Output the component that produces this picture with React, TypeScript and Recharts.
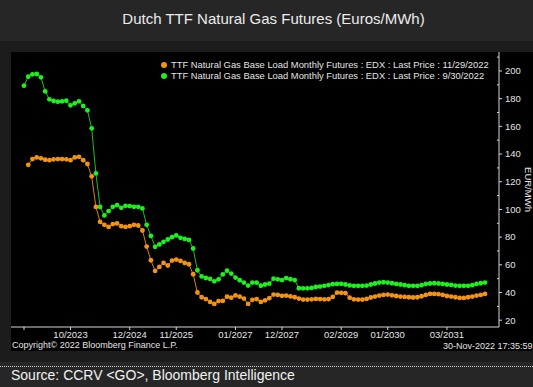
import { Label, Line, LineChart, XAxis, YAxis } from 'recharts';

// monthly contracts, Nov 2022 .. Dec 2031
const firstYear = 2022;
const firstMonth = 11;
const contractCount = 110;
const months: string[] = [];
for (let i = 0; i < contractCount; i++) {
  const m = ((firstMonth - 1 + i) % 12) + 1;
  const y = firstYear + Math.floor((firstMonth - 1 + i) / 12);
  months.push(`${String(m).padStart(2, '0')}/${y}`);
}

// Last price 9/30/2022 (green)
const priceSep30 = [
  189.4, 195.9, 197.6, 197.8, 195.4, 185.3, 179.5, 178.3, 177.8, 178.1,
  178.5, 175.2, 176.6, 178.1, 174.7, 171.6, 158.6, 126.0, 101.8, 95.7,
  98.8, 101.9, 103.1, 101.2, 102.6, 102.4, 101.9, 101.9, 100.7, 88.9,
  80.9, 73.0, 74.7, 76.6, 78.3, 80.0, 81.2, 79.5, 78.7, 78.0,
  71.8, 56.1, 51.6, 50.5, 49.8, 48.1, 49.5, 53.1, 55.8, 53.7,
  50.8, 48.9, 47.2, 45.0, 47.2, 47.1, 44.9, 45.8, 46.4, 50.0,
  49.5, 49.0, 50.4, 49.6, 49.0, 43.1, 43.0, 43.0, 43.3, 44.0,
  44.3, 44.8, 45.4, 46.0, 46.2, 46.3, 45.8, 45.1, 44.8, 44.8,
  44.8, 45.0, 45.8, 46.5, 47.2, 47.4, 47.2, 46.7, 46.2, 45.8,
  45.3, 44.8, 44.8, 44.8, 45.3, 46.2, 46.5, 46.7, 46.5, 46.2,
  45.8, 45.5, 45.0, 44.8, 44.8, 44.8, 45.3, 46.2, 46.7, 47.2,
];

// Last price 11/29/2022 (orange), starts one month later
const priceNov29 = [
  null, 132.2, 136.4, 137.6, 136.9, 135.9, 135.6, 136.2, 136.4, 136.4,
  136.2, 135.6, 137.6, 138.0, 135.6, 132.8, 123.9, 101.8, 91.0, 88.9,
  87.4, 89.4, 89.9, 87.9, 87.4, 87.9, 88.9, 88.4, 84.8, 73.2,
  63.3, 55.6, 58.5, 61.4, 59.5, 63.1, 63.8, 62.8, 61.4, 60.4,
  53.2, 40.0, 36.6, 35.3, 33.2, 31.8, 33.8, 33.9, 37.0, 36.3,
  37.9, 37.0, 35.6, 31.8, 34.7, 35.3, 33.2, 34.4, 35.9, 38.5,
  38.3, 37.6, 37.8, 37.2, 36.6, 35.6, 34.9, 34.9, 35.1, 35.4,
  35.3, 35.1, 35.2, 36.8, 39.9, 39.8, 39.5, 36.3, 35.1, 34.9,
  34.9, 35.4, 36.4, 37.1, 37.8, 38.3, 38.5, 38.0, 37.5, 37.1,
  36.8, 36.6, 36.4, 36.6, 37.3, 38.3, 39.0, 39.0, 38.8, 38.3,
  37.5, 37.1, 36.6, 36.1, 36.1, 36.6, 37.1, 37.8, 38.3, 39.0,
];

const xTicks = ['11/2022', '10/2023', '12/2024', '11/2025', '01/2027', '12/2027', '02/2029', '01/2030', '03/2031'];
const yTicks = [20, 30, 40, 50, 60, 70, 80, 90, 100, 110, 120, 130, 140, 150, 160, 170, 180, 190, 200, 210];

const data = months.map((month, i) => ({ month, nov29: priceNov29[i], sep30: priceSep30[i] }));

const FONT = '"Liberation Sans", Arial, sans-serif';
const ORANGE = '#f39314';
const GREEN = '#1ef01e';
const AXIS = '#d6d6d6';
const TEXT = '#e4e4e4';

const legendItems = [
  { color: ORANGE, label: 'TTF Natural Gas Base Load Monthly Futures : EDX : Last Price : 11/29/2022' },
  { color: GREEN, label: 'TTF Natural Gas Base Load Monthly Futures : EDX : Last Price : 9/30/2022' },
];

function YTick({ x, y, payload }: any) {
  const ax = x - 6;
  const major = payload.value % 20 === 0;
  return (
    <g>
      {major ? (
        <line x1={ax} x2={ax + 3} y1={y} y2={y} stroke={AXIS} />
      ) : (
        <line x1={ax - 2} x2={ax} y1={y} y2={y} stroke={AXIS} />
      )}
      {major && (
        <text x={x} y={y} dy="0.35em" textAnchor="start" fill={TEXT} fontSize={9.5} fontFamily={FONT}>
          {payload.value}
        </text>
      )}
    </g>
  );
}

function YLabel({ viewBox }: any) {
  const cx = viewBox.x + viewBox.width - 5;
  const cy = viewBox.y + viewBox.height / 2;
  return (
    <text x={cx} y={cy} transform={`rotate(90 ${cx} ${cy})`} textAnchor="middle" dy="0.35em" fill={TEXT} fontSize={9.5} fontFamily={FONT}>
      EUR/MWh
    </text>
  );
}

export default function App() {
  return (
    <div style={{ position: 'absolute', left: 0, top: 0, width: 533, height: 387, background: '#1c1c1c', overflow: 'hidden', fontFamily: FONT }}>
      <div style={{ position: 'absolute', left: 0, top: 0, width: 533, height: 41, background: '#262626' }}>
        <div style={{ position: 'absolute', left: 7, width: 533, top: 10, textAlign: 'center', color: '#ececec', fontSize: 15, lineHeight: '18px' }}>
          Dutch TTF Natural Gas Futures (Euros/MWh)
        </div>
      </div>

      <div style={{ position: 'absolute', left: 11, top: 52, width: 522, height: 299, background: '#000' }}>
        <LineChart width={522} height={299} data={data} margin={{ top: 0, right: 0, bottom: 0, left: 0 }}>
          <XAxis
            dataKey="month"
            ticks={xTicks}
            interval={0}
            height={24}
            padding={{ left: 13, right: 14 }}
            stroke={AXIS}
            tickSize={3}
            tickMargin={1}
            tick={{ fill: TEXT, fontSize: 9.5, fontFamily: FONT }}
            tickFormatter={(v: string) => (v === '11/2022' ? '' : v)}
          />
          <YAxis
            orientation="right"
            type="number"
            domain={[15.1, 213.7]}
            allowDataOverflow
            ticks={yTicks}
            interval={0}
            width={34}
            stroke={AXIS}
            tickLine={false}
            tickSize={3}
            tickMargin={3}
            tick={<YTick />}
          >
            <Label content={<YLabel />} />
          </YAxis>
          <Line
            dataKey="sep30"
            stroke="#17c417"
            strokeWidth={1}
            dot={{ r: 2.4, fill: GREEN, stroke: 'none' }}
            isAnimationActive={false}
          />
          <Line
            dataKey="nov29"
            stroke="#d8820f"
            strokeWidth={1}
            dot={{ r: 2.4, fill: ORANGE, stroke: 'none' }}
            isAnimationActive={false}
          />
        </LineChart>

        <div style={{ position: 'absolute', left: 150, top: 7, color: TEXT, fontSize: 9.4, lineHeight: '11px', whiteSpace: 'nowrap' }}>
          {legendItems.map((item) => (
            <div key={item.label} style={{ display: 'flex', alignItems: 'center' }}>
              <span style={{ display: 'inline-block', width: 6, height: 6, borderRadius: 3, background: item.color, marginRight: 4 }} />
              <span>{item.label}</span>
            </div>
          ))}
        </div>

        <div style={{ position: 'absolute', left: 1, top: 288, color: TEXT, fontSize: 9, lineHeight: '11px', whiteSpace: 'nowrap' }}>
          Copyright© 2022 Bloomberg Finance L.P.
        </div>
        <div style={{ position: 'absolute', left: 432, top: 289, color: TEXT, fontSize: 9, lineHeight: '11px', whiteSpace: 'nowrap' }}>
          30-Nov-2022 17:35:59
        </div>
      </div>

      <div style={{ position: 'absolute', left: 0, top: 362, width: 533, height: 25, background: '#262626' }}>
        <div style={{ position: 'absolute', left: 0, top: 4, width: 533, borderTop: '1px dotted #d0d0d0' }} />
        <div style={{ position: 'absolute', left: 11, top: 5, color: '#f2f2f2', fontSize: 14, lineHeight: '17px', whiteSpace: 'nowrap' }}>
          Source: CCRV &lt;GO&gt;, Bloomberg Intelligence
        </div>
      </div>
    </div>
  );
}
